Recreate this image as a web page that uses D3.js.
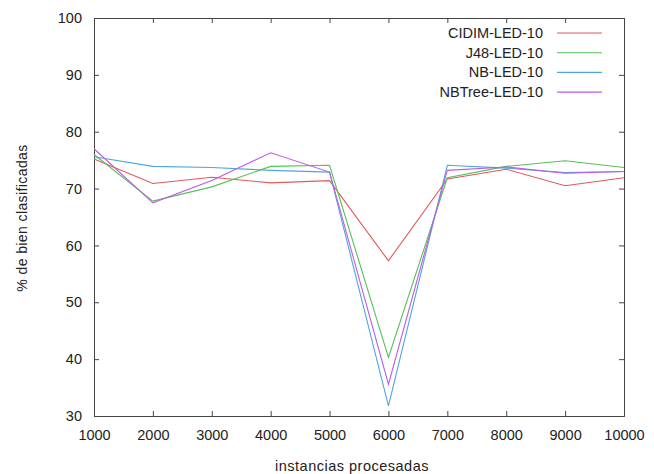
<!DOCTYPE html>
<html>
<head>
<meta charset="utf-8">
<script src="https://cdn.jsdelivr.net/npm/d3@7/dist/d3.min.js"></script>
<style>
  body { margin: 0; background: #fff; }
  text { font-family: "Liberation Sans", Arial, sans-serif; fill: #222; }
</style>
</head>
<body>
<div id="chart"></div>
<script>
// DATA
var instancias = [1000, 2000, 3000, 4000, 5000, 6000, 7000, 8000, 9000, 10000];
var cidim  = [75.2, 70.9, 72.0, 71.0, 71.4, 57.3, 71.7, 73.4, 70.5, 71.9];
var j48    = [76.0, 67.8, 70.3, 73.9, 74.1, 40.3, 71.9, 73.9, 74.9, 73.7];
var nb     = [75.6, 73.9, 73.7, 73.2, 72.9, 31.8, 74.1, 73.6, 72.8, 73.0];
var nbtree = [77.0, 67.5, 71.4, 76.3, 72.9, 35.6, 73.2, 73.8, 72.7, 73.0];
var seriesNames = ["CIDIM-LED-10", "J48-LED-10", "NB-LED-10", "NBTree-LED-10"];
var seriesColors = ["#e05a5a", "#55c255", "#4ea6e0", "#c05ae6"];
var yTicks = [30, 40, 50, 60, 70, 80, 90, 100];

var series = [cidim, j48, nb, nbtree];

var width = 654, height = 474;
var margin = { left: 94, right: 30, top: 18, bottom: 58 };

var svg = d3.select("#chart")
  .append("svg")
  .attr("width", width)
  .attr("height", height);

// scales
var x = d3.scaleLinear()
  .domain([1000, 10000])
  .range([margin.left, width - margin.right]);

var y = d3.scaleLinear()
  .domain([30, 100])
  .range([height - margin.bottom, margin.top]);

var axisColor = "#444";

// axes, ticks inward on all sides
var axisBottomG = svg.append("g")
  .attr("transform", "translate(0," + (height - margin.bottom) + ")")
  .call(d3.axisBottom(x).tickValues(instancias).tickSize(-5).tickPadding(14).tickFormat(d3.format("d")));
var axisLeftG = svg.append("g")
  .attr("transform", "translate(" + margin.left + ",0)")
  .call(d3.axisLeft(y).tickValues(yTicks).tickSize(-5).tickPadding(12));
var axisTopG = svg.append("g")
  .attr("transform", "translate(0," + margin.top + ")")
  .call(d3.axisTop(x).tickValues(instancias).tickSize(-5).tickFormat(""));
var axisRightG = svg.append("g")
  .attr("transform", "translate(" + (width - margin.right) + ",0)")
  .call(d3.axisRight(y).tickValues(yTicks).tickSize(-5).tickFormat(""));

[axisBottomG, axisLeftG, axisTopG, axisRightG].forEach(function(g) {
  g.select(".domain").attr("stroke", axisColor);
  g.selectAll(".tick line").attr("stroke", axisColor);
  g.selectAll("text")
    .style("font-family", "'Liberation Sans', Arial, sans-serif")
    .style("font-size", "14.5px")
    .attr("fill", "#222");
});

// lines
var line = d3.line()
  .x(function(d, i) { return x(instancias[i]); })
  .y(function(d) { return y(d); });

series.forEach(function(s, k) {
  svg.append("path")
    .datum(s)
    .attr("fill", "none")
    .attr("stroke", seriesColors[k])
    .attr("stroke-width", 1.1)
    .attr("d", line);
});

// legend
var legend = svg.append("g");
seriesNames.forEach(function(name, k) {
  var ly = 33 + k * 19.7;
  legend.append("text")
    .attr("x", 543)
    .attr("y", ly)
    .attr("dy", "0.35em")
    .attr("text-anchor", "end")
    .style("font-size", "14.5px")
    .text(name);
  legend.append("line")
    .attr("x1", 557)
    .attr("x2", 602)
    .attr("y1", ly)
    .attr("y2", ly)
    .attr("stroke", seriesColors[k])
    .attr("stroke-width", 1.1);
});

// axis titles
svg.append("text")
  .attr("x", 352)
  .attr("y", 471)
  .attr("text-anchor", "middle")
  .style("font-size", "14.5px")
  .style("letter-spacing", "0.5px")
  .text("instancias procesadas");

svg.append("text")
  .attr("transform", "translate(27,218) rotate(-90)")
  .attr("text-anchor", "middle")
  .style("font-size", "14px")
  .style("letter-spacing", "0.4px")
  .text("% de bien clasificadas");
</script>
</body>
</html>
